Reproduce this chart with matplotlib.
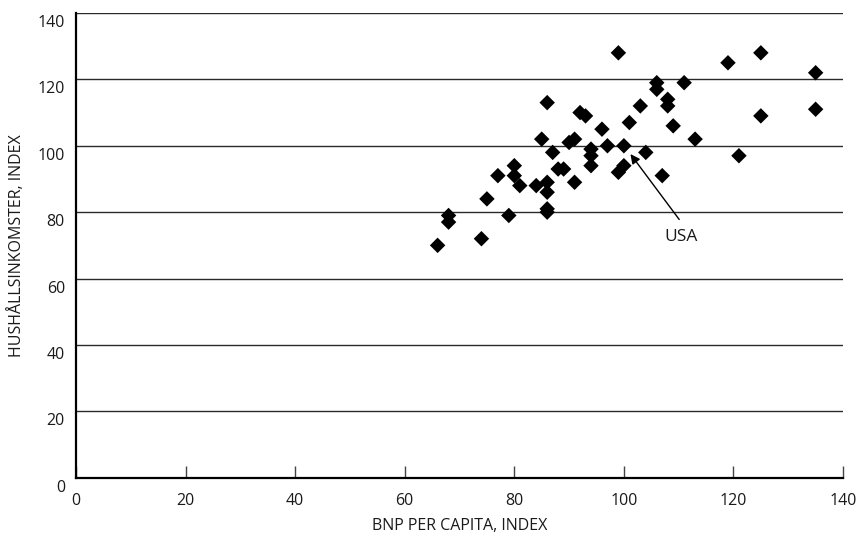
import matplotlib
matplotlib.use("Agg")
import matplotlib.pyplot as plt
import matplotlib.transforms as mtransforms

plt.rcParams['font.family'] = ['Open Sans', 'DejaVu Sans']

# Data: GDP per capita index (x) vs household income index (y)
bnp = [66, 68, 68, 74, 75, 77, 79, 80, 80, 81, 84, 85, 86, 86, 86, 86, 86, 87, 88, 89,
       90, 91, 91, 92, 93, 94, 94, 94, 96, 97, 99, 99, 100, 100, 101, 103, 104, 106, 106,
       107, 108, 108, 109, 111, 113, 119, 121, 125, 125, 135, 135]
hush = [70, 79, 77, 72, 84, 91, 79, 94, 91, 88, 88, 102, 113, 89, 86, 81, 80, 98, 93, 93,
        101, 102, 89, 110, 109, 99, 97, 94, 105, 100, 128, 92, 94, 100, 107, 112, 98, 119, 117,
        91, 114, 112, 106, 119, 102, 125, 97, 128, 109, 122, 111]
x_ticks = [0, 20, 40, 60, 80, 100, 120, 140]
y_ticks = [0, 20, 40, 60, 80, 100, 120, 140]
usa_label = "USA"
usa_point = (101.2, 97.5)
usa_tail = (110.1, 77.8)
usa_text_pos = (110.5, 72.4)

fig = plt.figure(figsize=(8.59, 5.39), dpi=100)
ax = fig.add_axes([0.0885, 0.1137, 0.8929, 0.8622])

for yv in y_ticks[1:]:
    ax.axhline(yv, color='#2a2a2a', lw=1.0, zorder=1)

ax.scatter(bnp, hush, marker='D', s=62, color='black', edgecolors='none', zorder=3)

ax.set_xlim(0, 140)
ax.set_ylim(0, 140)
ax.set_xticks(x_ticks)
ax.set_yticks(y_ticks)
ax.set_xticklabels([str(v) for v in x_ticks])
ax.set_yticklabels([str(v) for v in y_ticks])

for s in ['top', 'right']:
    ax.spines[s].set_visible(False)
for s in ['left', 'bottom']:
    ax.spines[s].set_color('black')
    ax.spines[s].set_linewidth(1.6)

ax.tick_params(axis='x', direction='in', length=9, width=1.0, color='#444444',
               pad=11, labelsize=11.5, labelcolor='#1a1a1a')
ax.tick_params(axis='y', length=0, pad=8, labelsize=11.5, labelcolor='#1a1a1a')

offset = mtransforms.ScaledTranslation(0, -8 / 100, fig.dpi_scale_trans)
for lbl in ax.get_yticklabels():
    lbl.set_transform(lbl.get_transform() + offset)

ax.set_xlabel("BNP PER CAPITA, INDEX", fontsize=11.5, color='#1a1a1a', va='center')
ax.xaxis.set_label_coords(0.5, -0.104)
ax.set_ylabel("HUSHÅLLSINKOMSTER, INDEX", fontsize=11.5, color='#1a1a1a', va='center')
ax.yaxis.set_label_coords(-0.077, 0.5)

ax.annotate("", xy=usa_point, xytext=usa_tail,
            arrowprops=dict(arrowstyle='-|>', color='black', lw=1.0,
                            mutation_scale=14, shrinkA=0, shrinkB=0), zorder=4)
ax.text(usa_text_pos[0], usa_text_pos[1], usa_label, fontsize=12.5, color='#1a1a1a',
        ha='center', va='center', zorder=4)

fig.savefig("out.png", dpi=100)
